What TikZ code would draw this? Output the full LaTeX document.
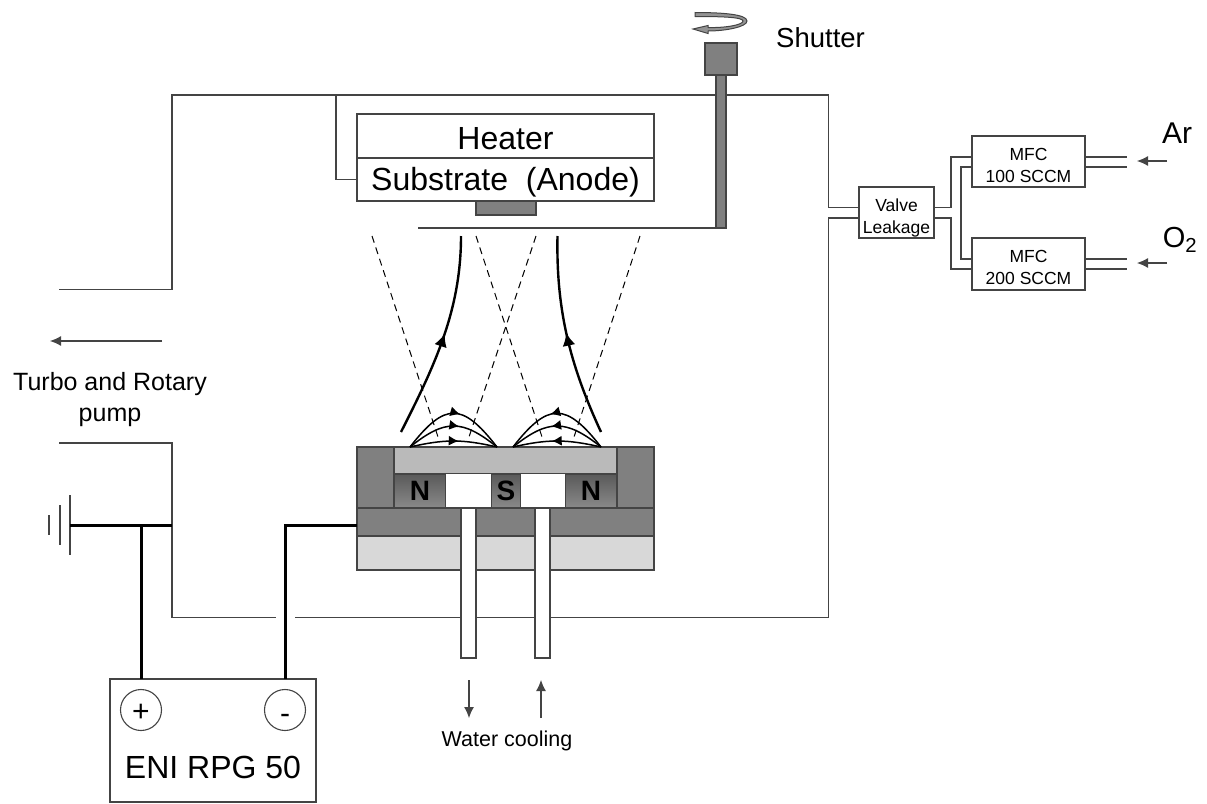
\documentclass[tikz,border=0pt]{standalone}
\usepackage{fontspec}
\setmainfont{Liberation Sans}
\usetikzlibrary{arrows.meta,calc,decorations.markings}
\definecolor{wall}{RGB}{68,68,68}
\definecolor{steel}{RGB}{128,128,128}
\definecolor{target}{RGB}{186,186,186}
\definecolor{coolant}{RGB}{216,216,216}
\tikzset{
  txt/.style={font=\fontsize{#1}{#1}\selectfont,inner sep=0pt},
  small/.style={font=\fontsize{17.5}{22}\selectfont,text height=41pt,text depth=0pt},
  box/.style={draw=wall,line width=1.1pt,fill=white,inner sep=0pt,outer sep=0pt,align=center},
  solid block/.style={box,fill=steel},
  magnet/.style={box,bottom color=steel!92,top color=black!65,text=black,font=\fontsize{28}{28}\selectfont\bfseries,minimum height=34pt},
  tube/.style={box,minimum width=15pt,minimum height=150pt},
  terminal/.style={draw=wall,line width=1.1pt,circle,minimum size=41pt,inner sep=0pt},
  pipe/.style={draw=wall,line width=1.1pt},
  wire/.style={draw=black,line width=3pt},
  flow/.style={-{Latex[length=11pt,width=10pt]},draw=wall,line width=1.1pt},
  ray/.style={draw=black,line width=1pt,dash pattern=on 7pt off 5pt},
  midtip/.style 2 args={postaction={decorate},decoration={markings,mark=at position #1 with {\arrow{Latex[length=#2pt,width=#2pt]}}}},
  fieldline/.style={draw=black,line width=1.5pt,midtip={.56}{10}},
  plume/.style={draw=black,line width=2.4pt,midtip={.52}{13}}
}
\begin{document}
\begin{tikzpicture}[x=1pt,y=-1pt]
\useasboundingbox (0,0) rectangle (1207,803);
\draw[pipe] (59,289.5) -- (172,289.5) -- (172,95) -- (828.5,95) -- (828.5,207.5) -- (859,207.5);
\draw[pipe] (59,443) -- (172,443) -- (172,617.5) -- (276,617.5);
\draw[pipe] (295,617.5) -- (828.5,617.5) -- (828.5,218) -- (859,218);
\draw[flow] (162,341) -- (50,341);
\node[inner sep=0pt,align=center,font=\fontsize{25}{31}\selectfont] (pumplabel) at (110,399.5) {Turbo and Rotary\\pump};

\node[solid block,minimum width=60pt,minimum height=14pt] (sample) at (506,208) {};
\node[box,minimum width=297pt,minimum height=44pt,txt=32,text height=27pt] (heater) at (505.5,136) {Heater};
\node[box,minimum width=297pt,minimum height=43pt,txt=32,text height=29pt] (substrate) at (505.5,179.5) {Substrate\ \ (Anode)};
\coordinate (roof) at (336,95);
\draw[pipe] (roof) |- (substrate.west);

\node[solid block,minimum width=10pt,minimum height=153pt] (rod) at (721,151.5) {};
\node[solid block,minimum width=32pt,minimum height=32pt] (knob) at (721,59) {};
\coordinate (bladeend) at (418,228);
\draw[pipe] (bladeend) -- (rod.south);
\draw[draw=wall,fill=steel!85,line width=1pt] (695,12.5) .. controls (720,12.5) and (747,14) .. (747,21) .. controls (747,27) and (725,31) .. (708,31) -- (708,33.5) -- (693,29) -- (708,25.5) -- (708,27.5) .. controls (725,28) and (743,25) .. (743,21) .. controls (743,17) and (720,16.5) .. (695,16.5) -- cycle;
\node[txt=27.5,anchor=west] (shutter) at (776,38) {Shutter};

\node[box,minimum width=297pt,minimum height=34pt,fill=coolant] (backing) at (505.5,553) {};
\node[solid block,minimum width=297pt,minimum height=28pt] (base) at (505.5,522) {};
\node[solid block,minimum width=37pt,minimum height=61pt] (pillarL) at (375.5,477.5) {};
\node[solid block,minimum width=37pt,minimum height=61pt] (pillarR) at (635.5,477.5) {};
\node[box,fill=target,minimum width=223pt,minimum height=27pt] (plate) at (505.5,460.5) {};
\node[magnet,minimum width=52pt] (magL) at (420,491) {N};
\node[magnet,minimum width=30pt] (magS) at (506,491) {S};
\node[magnet,minimum width=52pt] (magR) at (591,491) {N};
\node[tube] (tubeL) at (468.5,583) {};
\node[tube] (tubeR) at (542.5,583) {};
\fill[white] (magL.north east) rectangle (magS.south west);
\fill[white] (magS.north east) rectangle (magR.south west);
\draw[pipe] (tubeL.north west) -- (tubeL.north east);
\draw[pipe] (tubeR.north west) -- (tubeR.north east);
\draw[pipe] (magL.south east) -- (magS.south west);
\draw[pipe] (magS.south east) -- (magR.south west);

\draw[ray] (372,236) -- (439,440);
\draw[ray] (536,236) -- (468,440);
\draw[ray] (476,236) -- (543,440);
\draw[ray] (640,236) -- (573,440);
\draw[plume] (401,432) .. controls (435,365) and (461,310) .. (461,236);
\draw[plume] (601,432) .. controls (570,365) and (556,310) .. (557.5,236);
\coordinate (poleA) at (410,447);
\coordinate (poleB) at (497,447);
\coordinate (poleC) at (601,447);
\coordinate (poleD) at (513,447);
\foreach \h in {8,28,45}{
  \draw[fieldline] (poleA) .. controls ($(poleA)+(35,-\h)$) and ($(poleB)+(-35,-\h)$) .. (poleB);
  \draw[fieldline] (poleC) .. controls ($(poleC)+(-35,-\h)$) and ($(poleD)+(35,-\h)$) .. (poleD);
}

\coordinate (outlet) at (469,680);
\coordinate (inlet) at (541,718);
\draw[flow] (outlet) -- ++(0,38);
\draw[flow] (inlet) -- ++(0,-38);
\node[txt=21.5] (water) at (507,741) {Water cooling};

\node[box,minimum width=206pt,minimum height=123pt] (supply) at (213,740.5) {};
\node[txt=32] (supplylabel) at (213,767) {ENI RPG 50};
\node[terminal,txt=30,text height=22pt] (plus) at (141,710) {+};
\node[terminal,txt=30,text height=27pt] (minus) at (285,710) {-};

\coordinate (gnd) at (70,525);
\coordinate (chamberwall) at (172,525);
\draw[pipe] ([yshift=30pt]gnd) -- ([yshift=-30pt]gnd);
\draw[pipe] ($(gnd)+(-10,-20)$) -- ($(gnd)+(-10,20)$);
\draw[pipe] ($(gnd)+(-21,-10)$) -- ($(gnd)+(-21,10)$);
\draw[wire] (gnd) -- (chamberwall);
\draw[wire] (plus |- supply.north) -- (plus |- gnd);
\draw[wire] (minus |- supply.north) |- ([yshift=-3pt]base.west);

\node[box,small,minimum width=75pt,minimum height=51pt] (valve) at (896.5,212.5) {Valve\\Leakage};
\node[box,small,minimum width=113pt,minimum height=51pt] (mfcA) at (1028.5,161.5) {MFC\\100 SCCM};
\node[box,small,minimum width=113pt,minimum height=52pt] (mfcB) at (1028.5,264) {MFC\\200 SCCM};
\draw[pipe] ([yshift=5pt]valve.east) -- ++(17,0) |- ([yshift=4.5pt]mfcA.west);
\draw[pipe] ([yshift=-5.5pt]valve.east) -- ++(17,0) |- ([yshift=-5pt]mfcB.west);
\draw[pipe] ([yshift=-5.5pt]mfcA.west) -- ++(-11,0) |- ([yshift=5pt]mfcB.west);
\foreach \m/\s in {mfcA/4.5,mfcA/-5.5,mfcB/5,mfcB/-5}
  \draw[pipe] ([yshift=\s pt]\m.east) -- ++(42,0);
\coordinate (arfeed) at (1167,161);
\coordinate (oxfeed) at (1167,263);
\draw[flow] (arfeed) -- ++(-30,0);
\draw[flow] (oxfeed) -- ++(-30,0);
\node[txt=30] (argon) at (1177,133) {Ar};
\node[txt=29] (oxygen) at (1180,240) {O\textsubscript{2}};
\end{tikzpicture}
\end{document}
